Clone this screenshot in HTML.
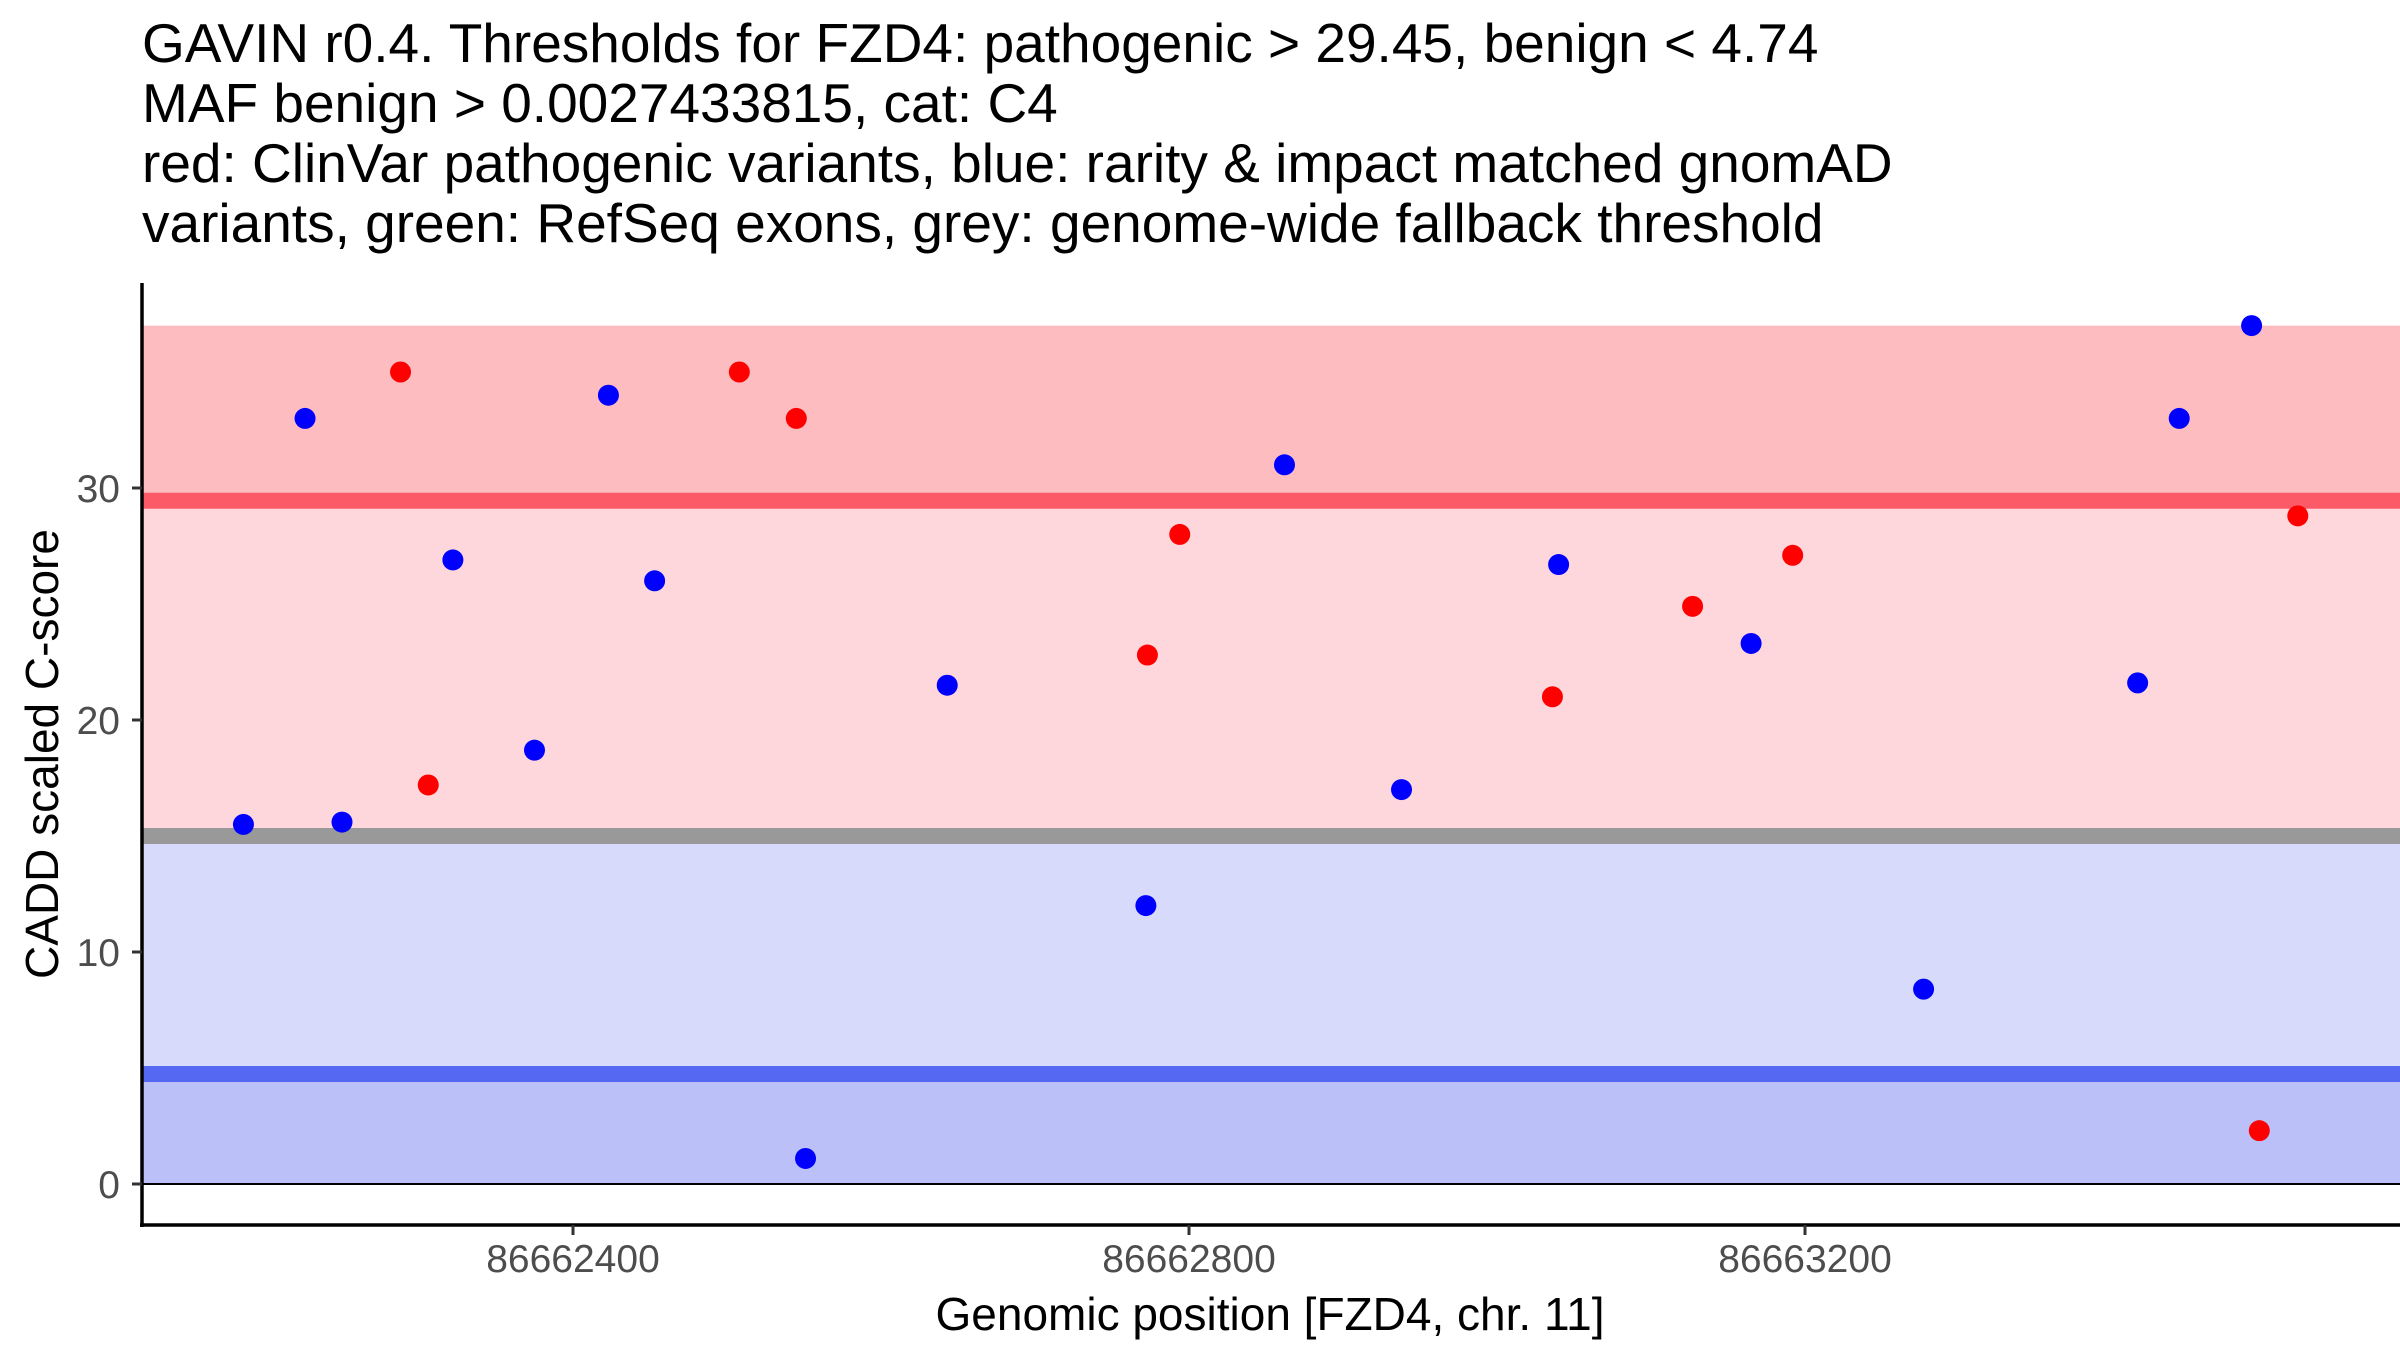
<!DOCTYPE html>
<html><head><meta charset="utf-8"><style>
html,body{margin:0;padding:0;background:#fff;}
svg{display:block;font-family:"Liberation Sans",Arial,sans-serif;}
</style></head><body>
<svg id="chart" width="2400" height="1350" viewBox="0 0 2400 1350" xmlns="http://www.w3.org/2000/svg">
<g id="title" font-size="55" fill="#000">
<text x="142" y="62">GAVIN r0.4. Thresholds for FZD4: pathogenic &gt; 29.45, benign &lt; 4.74</text>
<text x="142" y="122">MAF benign &gt; 0.0027433815, cat: C4</text>
<text x="142" y="182">red: ClinVar pathogenic variants, blue: rarity &amp; impact matched gnomAD</text>
<text x="142" y="242">variants, green: RefSeq exons, grey: genome-wide fallback threshold</text>
</g>
<g id="bands"></g>
<g id="points"></g>
<g id="axes"></g>
<text x="1270" y="1330" font-size="46" text-anchor="middle">Genomic position [FZD4, chr. 11]</text>
<text transform="translate(58,754) rotate(-90)" font-size="46" text-anchor="middle">CADD scaled C-score</text>
</svg>
<script>
const benignPos=[86662186,86662226,86662250,86662322,86662375,86662423,86662453,86662551,86662643,86662772,86662862,86662938,86663040,86663165,86663277,86663416,86663443,86663490];
const benignScore=[15.5,33,15.6,26.9,18.7,34,26,1.1,21.5,12,31,17,26.7,23.3,8.4,21.6,33,37];
const pathoPos=[86662288,86662306,86662508,86662545,86662773,86662794,86663036,86663127,86663192,86663495,86663520];
const pathoScore=[35,17.2,35,33,22.8,28,21,24.9,27.1,2.3,28.8];
const yTicks=[0,10,20,30];
const xTicks=[86662400,86662800,86663200];
const pathThr=29.45, benignThr=4.74, fallbackThr=15, yMax=37;

const NS="http://www.w3.org/2000/svg";
const L=142,R=2400,T=283,B=1225;
function X(v){return 573+(v-86662400)*1.54;}
function Y(v){return 1184-23.2*v;}
function mk(tag,attrs,parent){const e=document.createElementNS(NS,tag);for(const k in attrs)e.setAttribute(k,attrs[k]);parent.appendChild(e);return e;}
const bands=document.getElementById('bands');
function band(a,b,c,name){const r=mk('rect',{x:L,y:Y(b),width:R-L,height:Y(a)-Y(b),fill:c},bands);

}
band(pathThr,yMax,'#fdbcc0','pathogenic-band');
band(fallbackThr,pathThr,'#fdd7db','intermediate-pathogenic-band');
band(benignThr,fallbackThr,'#d8dafc','intermediate-benign-band');
band(0,benignThr,'#bbc0f9','benign-band');
function hl(v,c,w,name){const l=mk('line',{x1:L,x2:R,y1:Y(v),y2:Y(v),stroke:c,'stroke-width':w},bands);

}
hl(pathThr,'#fc5a66',16,'pathogenic-threshold-line');
hl(fallbackThr,'#999999',16,'fallback-threshold-line');
hl(benignThr,'#5468f2',16,'benign-threshold-line');
hl(0,'#000',2,'zero-line');
const pts=document.getElementById('points');
benignPos.forEach((p,i)=>{const c=mk('circle',{cx:X(p),cy:Y(benignScore[i]),r:10.5,fill:'#0000ff'},pts);

});
pathoPos.forEach((p,i)=>{const c=mk('circle',{cx:X(p),cy:Y(pathoScore[i]),r:10.5,fill:'#ff0000'},pts);

});
const ax=document.getElementById('axes');
const ya=mk('line',{x1:L,x2:L,y1:T,y2:B+2,stroke:'#000','stroke-width':3.5},ax);


const xa=mk('line',{x1:L-2,x2:R,y1:B,y2:B,stroke:'#000','stroke-width':3.5},ax);


yTicks.forEach(v=>{mk('line',{x1:L-10,x2:L,y1:Y(v),y2:Y(v),stroke:'#333','stroke-width':3},ax);
const t=mk('text',{x:L-22,y:Y(v)+14,'font-size':39,fill:'#4d4d4d','text-anchor':'end'},ax);t.textContent=v;

});
xTicks.forEach(v=>{mk('line',{x1:X(v),x2:X(v),y1:B,y2:B+10,stroke:'#333','stroke-width':3},ax);
const t=mk('text',{x:X(v),y:B+47,'font-size':39,fill:'#4d4d4d','text-anchor':'middle'},ax);t.textContent=v;

});
</script>
</body></html>
